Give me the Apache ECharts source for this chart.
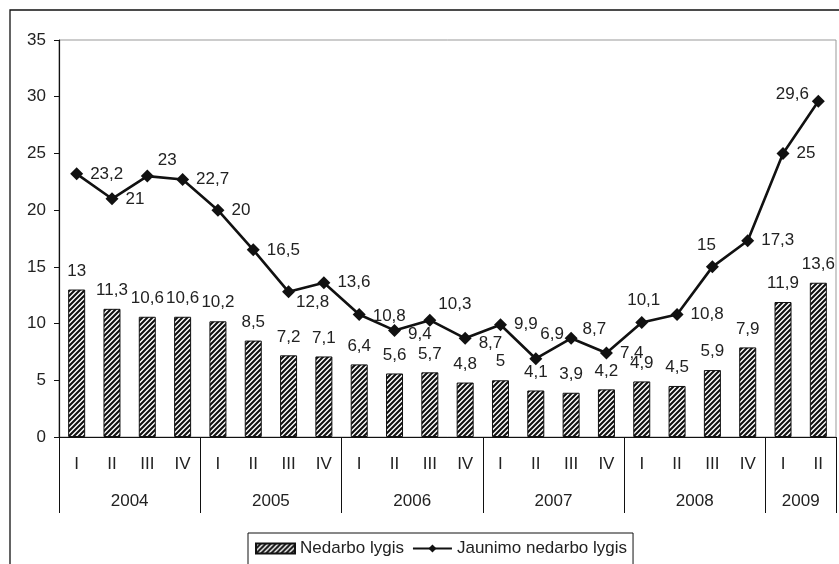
<!DOCTYPE html>
<html>
<head>
<meta charset="utf-8">
<script src="https://cdn.jsdelivr.net/npm/echarts@6/dist/echarts.min.js"></script>
<style>
  html, body { margin: 0; padding: 0; background: #fff; }
  #main { width: 839px; height: 564px; }
</style>
</head>
<body>
<div id="main"></div>
<script>
// duomenys
var quarters = ['I', 'II', 'III', 'IV', 'I', 'II', 'III', 'IV', 'I', 'II', 'III', 'IV',
                'I', 'II', 'III', 'IV', 'I', 'II', 'III', 'IV', 'I', 'II'];
var years = ['2004', '2005', '2006', '2007', '2008', '2009'];
var yearSpans = [4, 4, 4, 4, 4, 2];
var nedarbo = [13, 11.3, 10.6, 10.6, 10.2, 8.5, 7.2, 7.1, 6.4, 5.6, 5.7, 4.8,
               5, 4.1, 3.9, 4.2, 4.9, 4.5, 5.9, 7.9, 11.9, 13.6];
var jaunimo = [23.2, 21, 23, 22.7, 20, 16.5, 12.8, 13.6, 10.8, 9.4, 10.3, 8.7,
               9.9, 6.9, 8.7, 7.4, 10.1, 10.8, 15, 17.3, 25, 29.6];

// etikečių išdėstymas linijai (tik stilius)
var lineLabelPos = ['right', 'right', 'right', 'right', 'right', 'right', 'right', 'right',
                    'right', 'right', 'right', 'right', 'right', 'right', 'right', 'right',
                    'top', 'right', 'top', 'right', 'right', 'left'];
var lineLabelOff = [[0, 0], [0, 1], [-3, -16], [0, 0], [0, 0], [0, 0], [-6, 11], [0, 0],
                    [0, 2], [0, 4], [-5, -16], [0, 5], [0, 0], [-9, -24], [-2, -9], [0, 0],
                    [2, 0], [0, 0], [-6, 0], [0, 0], [0, 0], [4, -7]];

var FONT = "'Liberation Sans', Arial, sans-serif";
var FS = 17;

// metų ašis: pusės kategorijos žingsniai
var yearSlots = [];
var yearTicks = {};
var pos = 0;
yearTicks[0] = true;
years.forEach(function (y, i) {
    yearSlots[pos + yearSpans[i]] = y;
    pos += yearSpans[i] * 2;
    yearTicks[pos] = true;
});
var slotIdx = [];
for (var k = 0; k <= quarters.length * 2; k++) slotIdx.push(String(k));

function fmt(v) {
    return String(v).replace('.', ',');
}

// brūkšniuotas užpildas
function makeHatch() {
    var s = 5;
    var c = document.createElement('canvas');
    c.width = s; c.height = s;
    var ctx = c.getContext('2d');
    ctx.fillStyle = '#fff';
    ctx.fillRect(0, 0, s, s);
    ctx.strokeStyle = '#111';
    ctx.lineWidth = 2.1;
    ctx.beginPath();
    ctx.moveTo(0, s); ctx.lineTo(s, 0);
    ctx.moveTo(-1, 1); ctx.lineTo(1, -1);
    ctx.moveTo(s - 1, s + 1); ctx.lineTo(s + 1, s - 1);
    ctx.stroke();
    return c;
}
var hatch = { image: makeHatch(), repeat: 'repeat' };

var myChart = echarts.init(document.getElementById('main'));

var option = {
    animation: false,
    textStyle: { fontFamily: FONT },
    graphic: [{
        type: 'rect',
        shape: { x: 10, y: 10, width: 900, height: 600 },
        style: { fill: 'none', stroke: '#111', lineWidth: 1.3 },
        silent: true
    }],
    grid: {
        left: 59, right: 3, top: 40, bottom: 127,
        show: true, borderColor: '#999', borderWidth: 1
    },
    legend: {
        left: 248, top: 533,
        padding: [7, 6, 10, 7],
        itemGap: 8,
        itemWidth: 39, itemHeight: 10,
        borderColor: '#111', borderWidth: 1,
        textStyle: { fontSize: FS, color: '#222', fontFamily: FONT },
        data: [{ name: 'Nedarbo lygis', icon: 'rect' }, { name: 'Jaunimo nedarbo lygis' }]
    },
    xAxis: [{
        type: 'category',
        data: quarters,
        axisLine: { lineStyle: { color: '#111', width: 1.2 } },
        axisTick: { interval: 0, length: 40, lineStyle: { color: '#111' } },
        axisLabel: { interval: 0, margin: 19, fontSize: FS, color: '#222', fontFamily: FONT }
    }, {
        type: 'category',
        position: 'bottom',
        boundaryGap: false,
        data: slotIdx,
        axisLine: { show: false },
        axisTick: {
            length: 76,
            lineStyle: { color: '#111' },
            interval: function (i) { return !!yearTicks[i]; }
        },
        axisLabel: {
            margin: 56, fontSize: FS, color: '#222', fontFamily: FONT,
            interval: function (i) { return !!yearSlots[i]; },
            formatter: function (v, i) { return yearSlots[i] || ''; }
        }
    }],
    yAxis: {
        type: 'value',
        min: 0, max: 35, interval: 5,
        splitLine: { show: false },
        axisLine: { show: true, lineStyle: { color: '#111', width: 1.2 } },
        axisTick: { show: true, length: 5, lineStyle: { color: '#111' } },
        axisLabel: { margin: 13, fontSize: FS, color: '#222', fontFamily: FONT }
    },
    series: [{
        name: 'Nedarbo lygis',
        type: 'bar',
        xAxisIndex: 0,
        barWidth: 17,
        data: nedarbo,
        itemStyle: { color: hatch, borderColor: '#111', borderWidth: 1 },
        label: {
            show: true, position: 'top', distance: 10,
            fontSize: FS, color: '#222', fontFamily: FONT,
            formatter: function (p) { return fmt(p.value); }
        }
    }, {
        name: 'Jaunimo nedarbo lygis',
        type: 'line',
        xAxisIndex: 0,
        symbol: 'diamond',
        symbolSize: 13,
        lineStyle: { color: '#111', width: 2.6 },
        itemStyle: { color: '#111' },
        data: jaunimo.map(function (v, i) {
            return {
                value: v,
                label: { position: lineLabelPos[i], offset: lineLabelOff[i] }
            };
        }),
        label: {
            show: true, distance: 7,
            fontSize: FS, color: '#222', fontFamily: FONT,
            formatter: function (p) { return fmt(p.value); }
        }
    }]
};

myChart.setOption(option);
</script>
</body>
</html>
